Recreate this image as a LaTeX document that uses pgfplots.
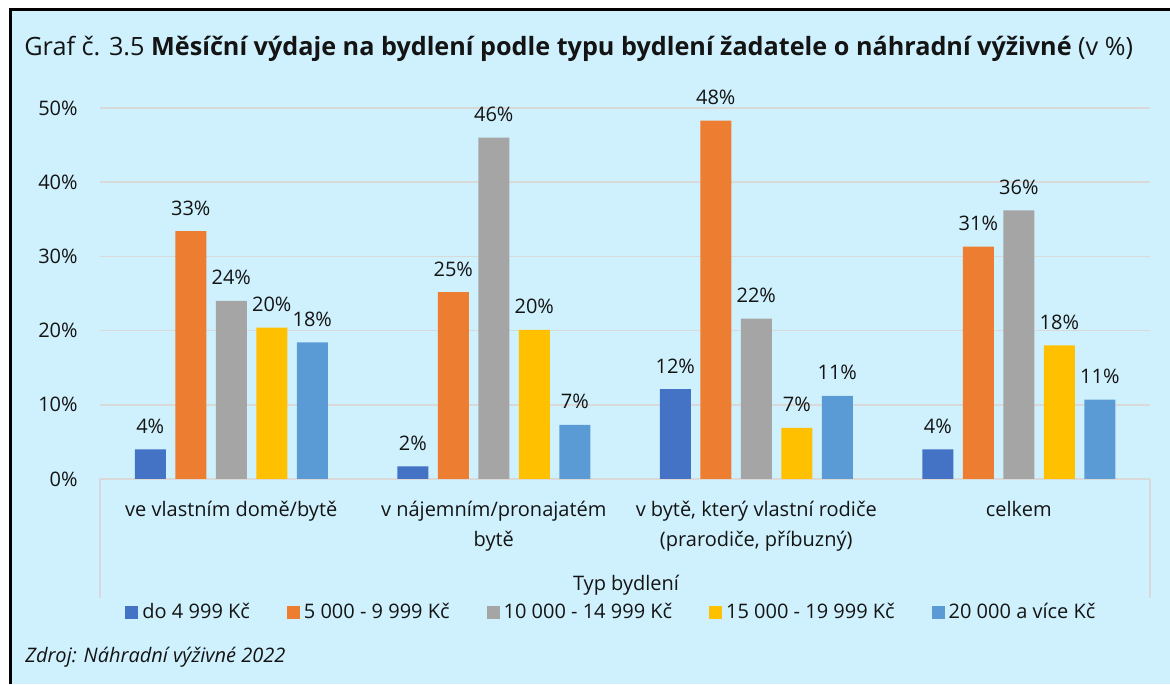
\documentclass[border=0pt]{standalone}
\usepackage{fontspec}
\setmainfont{Open Sans}
\usepackage{pgfplots}
\pgfplotsset{compat=1.18}
\definecolor{bg}{RGB}{207,241,253}
\definecolor{gridc}{RGB}{217,217,217}
\definecolor{txt}{RGB}{20,20,20}
\definecolor{c1}{HTML}{4472C4}
\definecolor{c2}{HTML}{ED7D31}
\definecolor{c3}{HTML}{A5A5A5}
\definecolor{c4}{HTML}{FFC000}
\definecolor{c5}{HTML}{5B9BD5}
\pgfplotstableread{
x a b c d e
0 4.0 33.4 24.0 20.4 18.4
1 1.7 25.2 46.0 20.1 7.3
2 12.1 48.3 21.6 6.9 11.2
3 4.0 31.3 36.2 18.0 10.7
}\data
\begin{document}
\begin{tikzpicture}[x=0.5bp,y=0.5bp]
\fill[white] (0,0) rectangle (1170,684);
\fill[bg] (10,0) rectangle (1170,674);
\draw[black,line width=1.5bp] (10,0) -- (10,674) -- (1170,674);
\node[anchor=base west,inner sep=0pt,font=\fontsize{12.6bp}{14bp}\selectfont,text=txt] at (24,628)
  {Graf č. 3.5 \textbf{Měsíční výdaje na bydlení podle typu bydlení žadatele o náhradní výživné} (v~\%)};
\begin{axis}[
  at={(50bp,102.5bp)}, anchor=south west,
  scale only axis, width=525bp, height=185.5bp,
  xmin=-0.5, xmax=3.5, ymin=0, ymax=50,
  axis line style={draw=none},
  ytick={0,10,20,30,40,50},
  yticklabels={0\%,10\%,20\%,30\%,40\%,50\%},
  ymajorgrids, grid style={gridc,line width=0.75bp},
  major tick length=0pt,
  xtick={0,1,2,3},
  xticklabels={{ve vlastním domě/bytě},{v nájemním/pronajatém\\bytě},{v bytě, který vlastní rodiče\\(prarodiče, příbuzný)},{celkem}},
  xticklabel style={align=center,anchor=north,inner sep=0pt,yshift=-11bp,font=\fontsize{10bp}{15bp}\selectfont,text=txt},
  yticklabel style={anchor=east,inner sep=0pt,xshift=-11bp,font=\fontsize{10bp}{12bp}\selectfont,text=txt},
  ybar=4.75bp, bar width=15.5bp,
  clip=false,
  nodes near coords={\pgfmathprintnumber[fixed,precision=0,assume math mode=true]{\pgfplotspointmeta}\%},
  every node near coord/.append style={anchor=base,inner sep=0pt,yshift=8bp,font=\fontsize{10bp}{12bp}\selectfont,text=txt},
  legend style={at={(0.488,-0.36)},anchor=center,draw=none,fill=none,
    legend columns=-1,font=\fontsize{10bp}{12bp}\selectfont,text=txt,
    /tikz/every even column/.append style={column sep=16.5bp}},
  legend image code/.code={\fill[#1] (0bp,-3.2bp) rectangle (6.5bp,3.3bp);},
]
\addplot[fill=c1,draw=none] table[x=x,y=a]{\data};
\addplot[fill=c2,draw=none] table[x=x,y=b]{\data};
\addplot[fill=c3,draw=none] table[x=x,y=c]{\data};
\addplot[fill=c4,draw=none] table[x=x,y=d]{\data};
\addplot[fill=c5,draw=none] table[x=x,y=e]{\data};
\legend{do 4 999 Kč,5 000 - 9 999 Kč,10 000 - 14 999 Kč,15 000 - 19 999 Kč,20 000 a více Kč}
\end{axis}
\draw[gridc,line width=0.75bp] (100,205) -- (100,86);
\draw[gridc,line width=0.75bp] (1150,205) -- (1150,86);
\node[anchor=base,inner sep=0pt,font=\fontsize{10bp}{12bp}\selectfont,text=txt] at (626,94) {Typ bydlení};
\node[anchor=base west,inner sep=0pt,font=\fontsize{10bp}{12bp}\selectfont\itshape,text=txt] at (25,22) {Zdroj: Náhradní výživné 2022};
\pgfresetboundingbox
\path (0,0) rectangle (1170,684);
\end{tikzpicture}
\end{document}
